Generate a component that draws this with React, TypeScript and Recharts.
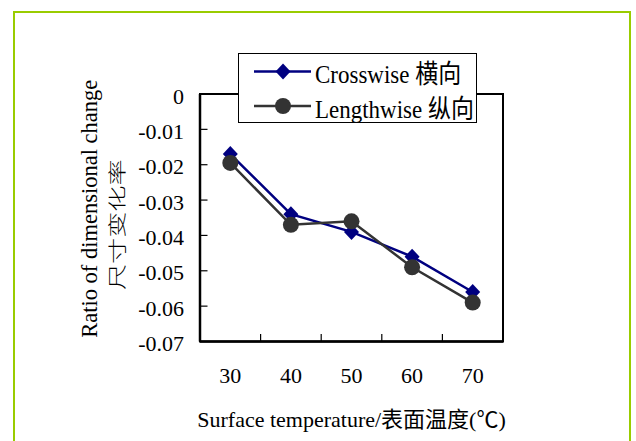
import React from 'react';
import {
  LineChart,
  Line,
  XAxis,
  YAxis,
  Legend,
  ReferenceArea,
  ReferenceLine,
  Label,
} from 'recharts';

// ---------- data ----------
const temperatures = [30, 40, 50, 60, 70];
const crosswise = [-0.017, -0.034, -0.039, -0.046, -0.056];
const lengthwise = [-0.0195, -0.037, -0.036, -0.049, -0.059];
const xTicks = [30, 40, 50, 60, 70];
const xBoundaries = [35, 45, 55, 65];
const yTicks = [0, -0.01, -0.02, -0.03, -0.04, -0.05, -0.06, -0.07];
const seriesNames = ['Crosswise 横向', 'Lengthwise 纵向'];
const xLabel = 'Surface temperature/表面温度(℃)';
const yLabelEn = 'Ratio of dimensional change';
const yLabelZh = '尺寸变化率';

const data = temperatures.map((t, i) => ({
  t,
  crosswise: crosswise[i],
  lengthwise: lengthwise[i],
}));

// ---------- styles ----------
const FONT = "'Liberation Serif', 'Times New Roman', 'Noto Sans CJK SC', serif";
const CJK = "'Noto Sans CJK SC', 'Liberation Serif', serif";
const BLUE = '#000080';
const GRAY = '#333333';
const Y_TICK_MARGIN = 16;
const X_TICK_MARGIN = 41.5;
const LEGEND_STRETCH = 1.12;

const fmt = (v: number) => (v === 0 ? '0' : v.toFixed(2));

const YTick = (props: any) => {
  const { x, y, payload } = props;
  const edge = x + Y_TICK_MARGIN;
  const v = payload.value;
  const inner = v !== yTicks[0] && v !== yTicks[yTicks.length - 1];
  return (
    <g>
      <text x={x} y={y} dy={9.7} textAnchor="end" fontFamily={FONT} fontSize={22} fill="#000">
        {fmt(v)}
      </text>
      {inner && <line x1={edge} x2={edge + 7.5} y1={y} y2={y} stroke="#000" strokeWidth={1.2} />}
    </g>
  );
};

const XTick = (props: any) => {
  const { x, y, payload } = props;
  return (
    <text x={x} y={y} textAnchor="middle" fontFamily={FONT} fontSize={22} fill="#000">
      {payload.value}
    </text>
  );
};

const Diamond = (p: any) => {
  const { cx, cy, index } = p;
  if (cx == null || cy == null) return <g key={index} />;
  return (
    <path
      key={index}
      d={`M${cx},${cy - 8}L${cx + 7.5},${cy}L${cx},${cy + 8}L${cx - 7.5},${cy}Z`}
      fill={BLUE}
      stroke="none"
    />
  );
};

const LegendContent = (props: any) => {
  const payload = props.payload || [];
  const rows = [17.5, 52];
  return (
    <svg width={237} height={68} style={{ display: 'block' }}>
      {payload.map((item: any, i: number) => {
        const y = rows[i];
        const color = item.color;
        return (
          <g key={i}>
            <line x1={15} x2={72} y1={y} y2={y} stroke={color} strokeWidth={2.5} />
            {i === 0 ? (
              <path d={`M44,${y - 8}L51.5,${y}L44,${y + 8}L36.5,${y}Z`} fill={color} />
            ) : (
              <circle cx={44} cy={y} r={8} fill={color} />
            )}
            <g transform={`translate(76, ${y + 11.5}) scale(1, ${LEGEND_STRETCH})`}>
              <text x={0} y={0} fontFamily={FONT} fontSize={23} fill="#000">
                {item.value}
              </text>
            </g>
          </g>
        );
      })}
    </svg>
  );
};

const YLabelContent = (props: any) => {
  const vb = props.viewBox || { x: 140, y: 94, width: 60, height: 247.5 };
  const cy = vb.y + vb.height / 2;
  const enX = vb.x - 43;
  const enY = cy - 9;
  const zhX = vb.x - 16;
  const zhY = cy + 7;
  return (
    <g>
      <text
        transform={`translate(${enX}, ${enY}) rotate(-90)`}
        x={0}
        y={0}
        textAnchor="middle"
        fontFamily={FONT}
        fontSize={22.5}
        fill="#000"
      >
        {yLabelEn}
      </text>
      <g transform={`translate(${zhX}, ${zhY}) scale(1, 1.45) rotate(-90)`}>
        <text x={0} y={0} textAnchor="middle" fontFamily={CJK} fontSize={18} fontWeight={300} fill="#000">
          {yLabelZh}
        </text>
      </g>
    </g>
  );
};

const XLabelContent = (props: any) => {
  const vb = props.viewBox || { x: 200, y: 341.5, width: 303, height: 30 };
  return (
    <text
      x={vb.x + vb.width / 2}
      y={vb.y + 85.5}
      textAnchor="middle"
      fontFamily={FONT}
      fontSize={22}
      fill="#000"
    >
      {xLabel}
    </text>
  );
};

export default function App() {
  return (
    <div
      style={{
        position: 'absolute',
        left: 0,
        top: 0,
        width: 636,
        height: 441,
        overflow: 'hidden',
        background: '#fff',
      }}
    >
      <div
        style={{
          position: 'absolute',
          left: 13,
          top: 11,
          width: 618,
          height: 470,
          border: '2.5px solid #99cc00',
          boxSizing: 'border-box',
        }}
      />
      <div style={{ position: 'absolute', left: 0, top: 0 }}>
        <LineChart
          width={636}
          height={441}
          data={data}
          margin={{ top: 94, right: 133, bottom: 69.5, left: 140 }}
        >
          <XAxis
            dataKey="t"
            type="number"
            domain={[25, 75]}
            ticks={xTicks}
            interval={0}
            allowDataOverflow
            height={30}
            tickSize={0}
            tickMargin={X_TICK_MARGIN}
            tickLine={false}
            axisLine={{ stroke: '#000', strokeWidth: 2.5 }}
            tick={<XTick />}
          >
            <Label content={<XLabelContent />} />
          </XAxis>
          <YAxis
            type="number"
            domain={[-0.07, 0]}
            ticks={yTicks}
            interval={0}
            allowDataOverflow
            width={60}
            tickSize={0}
            tickMargin={Y_TICK_MARGIN}
            tickLine={false}
            axisLine={{ stroke: '#000', strokeWidth: 2.5 }}
            tick={<YTick />}
          >
            <Label content={<YLabelContent />} />
          </YAxis>
          <ReferenceArea
            x1={25}
            x2={75}
            y1={-0.07}
            y2={0}
            fill="none"
            fillOpacity={0}
            stroke="#000"
            strokeWidth={2}
          />
          {xBoundaries.map((b) => (
            <ReferenceLine
              key={b}
              segment={[
                { x: b, y: -0.07 },
                { x: b, y: -0.0679 },
              ]}
              stroke="#000"
              strokeWidth={1.2}
            />
          ))}
          <Legend
            layout="horizontal"
            verticalAlign="middle"
            align="center"
            content={<LegendContent />}
            wrapperStyle={{
              left: 238,
              top: 53,
              width: 239,
              height: 70,
              border: '1px solid #000',
              background: '#fff',
              boxSizing: 'border-box',
              margin: 0,
              padding: 0,
            }}
          />
          <Line
            dataKey="crosswise"
            name={seriesNames[0]}
            stroke={BLUE}
            strokeWidth={2.5}
            dot={Diamond}
            activeDot={false}
            isAnimationActive={false}
          />
          <Line
            dataKey="lengthwise"
            name={seriesNames[1]}
            stroke={GRAY}
            strokeWidth={2.5}
            dot={{ r: 8, fill: GRAY, stroke: GRAY, strokeWidth: 0 }}
            activeDot={false}
            isAnimationActive={false}
          />
        </LineChart>
      </div>
    </div>
  );
}
